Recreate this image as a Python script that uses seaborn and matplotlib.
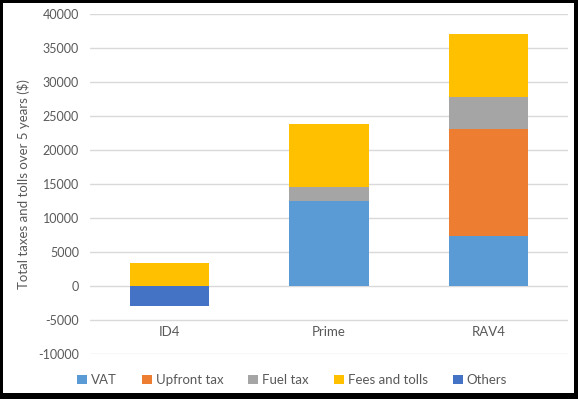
import matplotlib; matplotlib.use("Agg")
import matplotlib.pyplot as plt
from matplotlib.patches import Rectangle, Patch
import numpy as np
import pandas as pd
import seaborn as sns

cars = ["ID4", "Prime", "RAV4"]
series = ["VAT", "Upfront tax", "Fuel tax", "Fees and tolls", "Others"]
vat = [0, 12500, 7350]
upfront = [0, 0, 15650]
fuel = [0, 2100, 4800]
fees = [3300, 9200, 9250]
others = [-3000, 0, 0]
colors = ["#5b9bd5", "#ed7d31", "#a5a5a5", "#ffc000", "#4472c4"]

sns.set_theme(style="white")
plt.rcParams["font.family"] = ["Lato", "DejaVu Sans"]
plt.rcParams["axes.unicode_minus"] = False

fig = plt.figure(figsize=(5.78, 3.99), dpi=100, facecolor="black")
# white card inside the black frame
fig.patches.append(Rectangle((3 / 578, 6 / 399), 571 / 578, 390 / 399,
                             transform=fig.transFigure, facecolor="white",
                             edgecolor="none", zorder=-10))
ax = fig.add_axes([90 / 578, 1 - 354 / 399, 478 / 578, 340.3 / 399])
ax.set_facecolor("white")

pos_base = np.zeros(len(cars))
neg_base = np.zeros(len(cars))
for name, vals, col in zip(series, [vat, upfront, fuel, fees, others], colors):
    vals = np.array(vals, dtype=float)
    bottom = np.where(vals >= 0, pos_base, neg_base)
    df = pd.DataFrame({"car": cars, "val": vals})
    sns.barplot(data=df, x="car", y="val", bottom=bottom, color=col,
                width=0.5, saturation=1, linewidth=0, ax=ax, zorder=3)
    pos_base += np.clip(vals, 0, None)
    neg_base += np.clip(vals, None, 0)

ax.set_ylim(-10000, 40000)
ax.set_xlim(-0.5, 2.5)
ax.set_yticks(range(-10000, 40001, 5000))
ax.yaxis.grid(True, color="#d9d9d9", linewidth=1)
for s in ax.spines.values():
    s.set_visible(False)
ax.tick_params(axis="y", labelsize=9, colors="#595959", length=0, pad=8)
ax.tick_params(axis="x", labelsize=9.5, colors="#595959", length=0, pad=-20)
ax.set_xlabel("")
ax.set_ylabel("Total taxes and tolls over 5 years ($)", fontsize=9.5,
              color="#595959", labelpad=6)

handles = [Patch(facecolor=c, edgecolor="none") for c in colors]
fig.legend(handles, series, loc="center", bbox_to_anchor=(0.505, 1 - 380 / 399),
           ncol=5, frameon=False, fontsize=9.5, handlelength=0.75,
           handleheight=0.75, handletextpad=0.3, columnspacing=1.9,
           labelcolor="#595959")

fig.savefig("out.png", dpi=100, facecolor="black")
